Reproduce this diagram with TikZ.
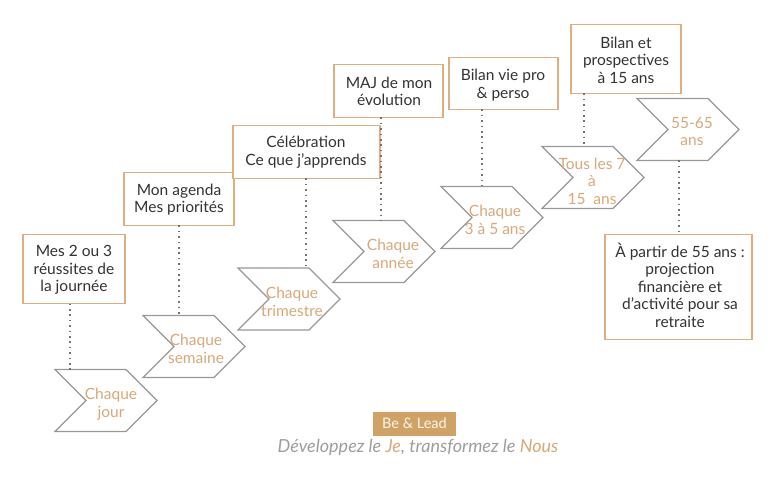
\documentclass[tikz,border=0pt]{standalone}
\usepackage{fontspec}
\setmainfont{Lato}
\usetikzlibrary{shapes.symbols}
\definecolor{boxline}{HTML}{DDAF80}
\definecolor{gold}{HTML}{D9A878}
\definecolor{badge}{HTML}{CFA265}
\definecolor{chevline}{HTML}{989898}
\definecolor{ink}{HTML}{333333}
\tikzset{
  x=1pt,y=-1pt,
  txt/.style={font=\fontsize{15.5}{17.5}\selectfont,align=center,inner sep=0pt},
  noteb/.style={draw=boxline,line width=1.1pt,fill=white,anchor=north west,inner sep=0pt,outer sep=0pt},
  notetxt/.style={txt,text=ink},
  chev/.style={draw=chevline,line width=1.2pt,fill=white,shape=signal,signal from=west,signal to=east,
     signal pointer angle=90,minimum width=102pt,minimum height=62pt,inner sep=0pt,outer sep=0pt,anchor=north west},
  chevtxt/.style={txt,text=gold},
  dots/.style={line width=1.6pt,dash pattern=on 1.6pt off 3.8pt,color=black!55}
}
\begin{document}
\begin{tikzpicture}
\useasboundingbox (0,0) rectangle (780,484);
\fill[white] (0,0) rectangle (780,484);
% note boxes
\node[noteb,minimum width=102pt,minimum height=69pt] (b1) at (23,234.5) {};
\node[noteb,minimum width=110pt,minimum height=53pt] (b2) at (124,172.5) {};
\node[noteb,minimum width=147pt,minimum height=53pt] (b3) at (233,125.5) {};
\node[noteb,minimum width=109pt,minimum height=53pt] (b4) at (334,64.5) {};
\node[noteb,minimum width=109pt,minimum height=52pt] (b5) at (449,57.5) {};
\node[noteb,minimum width=110pt,minimum height=69pt] (b6) at (571,24.5) {};
\node[noteb,minimum width=147pt,minimum height=105pt] (b7) at (605,234.5) {};
% note texts
\node[notetxt] (t1) at (74,270) {Mes 2 ou 3\\réussites de\\la journée};
\node[notetxt] (t2) at (179,199.5) {Mon agenda\\Mes priorités};
\node[notetxt] (t3) at (306,152) {Célébration\\Ce que j'apprends};
\node[notetxt] (t4) at (389,91.5) {MAJ de mon\\évolution};
\node[notetxt] (t5) at (503,85) {Bilan vie pro\\\& perso};
\node[notetxt] (t6) at (626,60) {Bilan et\\prospectives\\à 15 ans};
\node[notetxt] (t7) at (680,285) {À partir de 55 ans :\\projection\\financière et\\d'activité pour sa\\retraite};
% chevrons
\node[chev] (c1) at (55,369.5) {};
\node[chev] (c2) at (143,315.5) {};
\node[chev] (c3) at (238,268) {};
\node[chev] (c4) at (333,220.5) {};
\node[chev] (c5) at (441,186.5) {};
\node[chev] (c6) at (542,146.5) {};
\node[chev] (c7) at (637,98.5) {};
% chevron texts
\node[chevtxt] (k1) at (111,404) {Chaque\\jour};
\node[chevtxt] (k2) at (196,349) {Chaque\\semaine};
\node[chevtxt] (k3) at (292,302) {Chaque\\trimestre};
\node[chevtxt] (k4) at (393,254) {Chaque\\année};
\node[chevtxt] (k5) at (495,220) {Chaque\\3 à 5 ans};
\node[chevtxt] (k6) at (592,181) {Tous les 7\\à\\15~~ans};
\node[chevtxt] (k7) at (692,131.5) {55-65\\ans};
% connectors
\coordinate (l1) at (70,0);
\coordinate (l2) at (179,0);
\coordinate (l3) at (306,0);
\coordinate (l4) at (381,0);
\coordinate (l5) at (482,0);
\coordinate (l6) at (584,0);
\coordinate (l7) at (679,0);
\draw[dots] (l1 |- b1.south) -- (l1 |- c1.north);
\draw[dots] (l2 |- b2.south) -- (l2 |- c2.north);
\draw[dots] (l3 |- b3.south) -- (l3 |- c3.north);
\draw[dots] (l4 |- b4.south) -- (l4 |- c4.north);
\draw[dots] (l5 |- b5.south) -- (l5 |- c5.north);
\draw[dots] (l6 |- b6.south) -- (l6 |- c6.north);
\draw[dots] (l7 |- c7.south) -- (l7 |- b7.north);
% footer
\node[fill=badge,text=white!88!badge,font=\fontsize{14.5}{16}\selectfont,minimum width=83pt,minimum height=24pt,inner sep=0pt] (badge) at (414.5,423.5) {Be \& Lead};
\node[font=\fontsize{18}{20}\selectfont\itshape,text=black!38,inner sep=0pt] (tag) at (418,447) {Développez le \textcolor{gold}{Je}, transformez le \textcolor{gold}{Nous}};
\end{tikzpicture}
\end{document}
